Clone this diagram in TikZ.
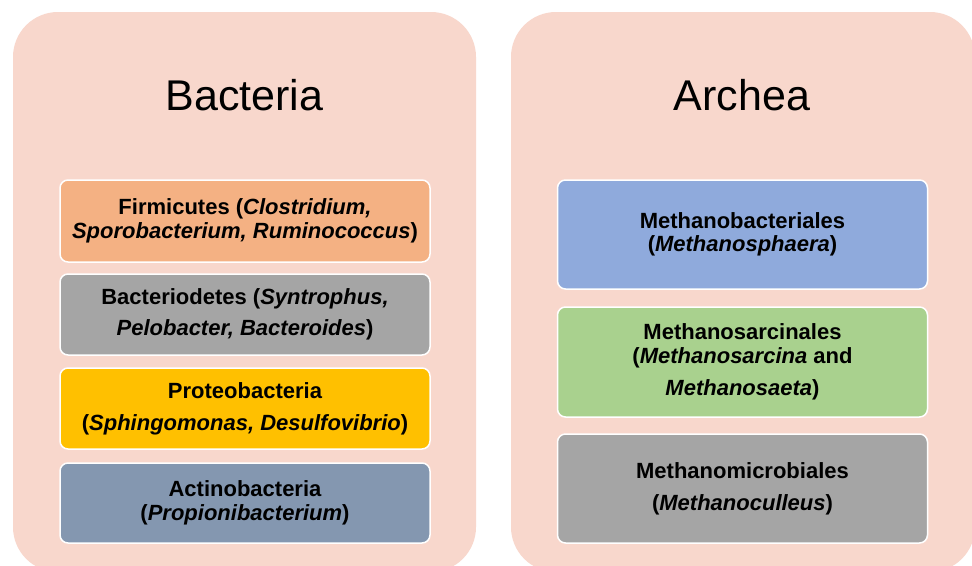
\documentclass[tikz,border=0pt]{standalone}
\usepackage{fontspec}
\setmainfont{Liberation Sans}
\definecolor{peach}{RGB}{248,215,204}
\definecolor{firmc}{RGB}{244,177,131}
\definecolor{greyc}{RGB}{165,165,165}
\definecolor{goldc}{RGB}{255,192,0}
\definecolor{slatec}{RGB}{132,151,176}
\definecolor{bluec}{RGB}{143,170,220}
\definecolor{greenc}{RGB}{169,209,142}
\begin{document}
\begin{tikzpicture}[x=1pt,y=-1pt,
  domainbox/.style={fill=peach, draw=none, rounded corners=45pt},
  titletext/.style={anchor=base, font=\fontsize{43}{48}\selectfont},
  taxonbox/.style={draw=white, line width=1.5pt, rounded corners=8pt, minimum width=370pt,
    align=center, inner sep=0pt, font=\fontsize{22}{23.5}\selectfont\bfseries}]
\useasboundingbox (0,0) rectangle (972,565);
\clip (0,0) rectangle (972,565);
\fill[white] (0,0) rectangle (972,565);
\path[domainbox] (13,12) rectangle (476,572);
\path[domainbox] (511,12) rectangle (975,572);
\node[titletext] (bac) at (244.5,110) {Bacteria};
\node[titletext] (arc) at (742,110) {Archea};
% Bacteria
\node[taxonbox, fill=firmc, minimum height=82pt] (firm) at (245,221)
  {Firmicutes (\itshape Clostridium,\\ \itshape Sporobacterium, Ruminococcus\upshape)};
\node[taxonbox, fill=greyc, minimum height=81pt] (bactd) at (245,314.5)
  {Bacteriodetes (\itshape Syntrophus,\\[7.5pt] \itshape Pelobacter, Bacteroides\upshape)};
\node[taxonbox, fill=goldc, minimum height=81pt] (prot) at (245,408.5)
  {Proteobacteria\\[8.5pt] (\itshape Sphingomonas, Desulfovibrio\upshape)};
\node[taxonbox, fill=slatec, minimum height=80pt] (acti) at (245,503)
  {Actinobacteria\\ (\itshape Propionibacterium\upshape)};
% Archea
\node[taxonbox, fill=bluec, minimum height=109pt] (mbac) at (742.5,234.5)
  {Methanobacteriales\\ (\itshape Methanosphaera\upshape)};
\node[taxonbox, fill=greenc, minimum height=110pt] (msar) at (742.5,362)
  {Methanosarcinales\\ (\itshape Methanosarcina\upshape{} and\\[8.5pt] \itshape Methanosaeta\upshape)};
\node[taxonbox, fill=greyc, minimum height=109pt] (mmic) at (742.5,488.5)
  {Methanomicrobiales\\[8.5pt] (\itshape Methanoculleus\upshape)};
\end{tikzpicture}
\end{document}
